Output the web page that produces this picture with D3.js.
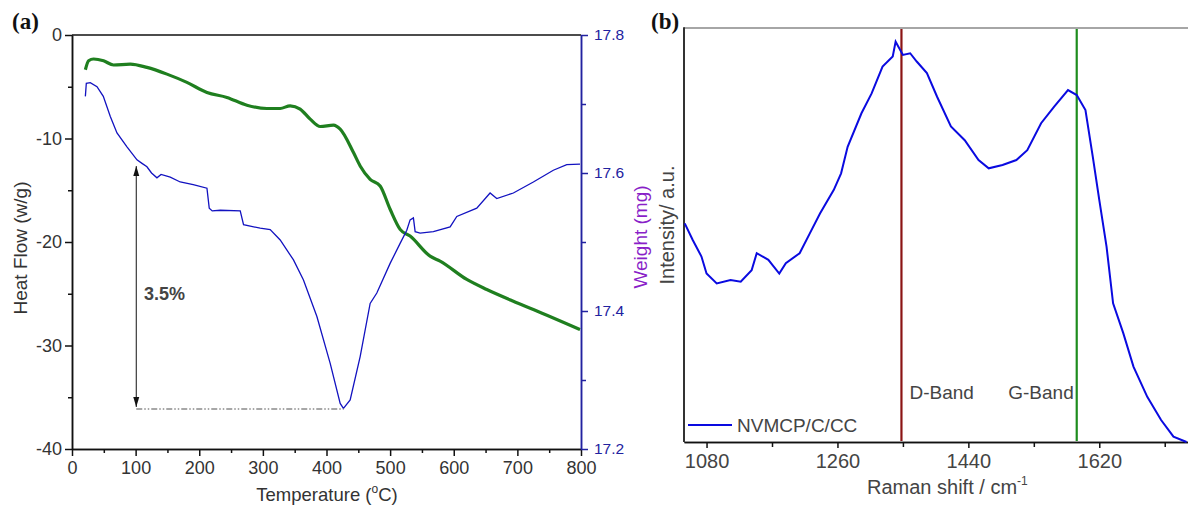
<!DOCTYPE html>
<html>
<head>
<meta charset="utf-8">
<script src="https://cdn.jsdelivr.net/npm/d3@7"></script>
<style>
  body { margin: 0; background: #fff; }
  text { font-family: "Liberation Sans", Arial, sans-serif; }
</style>
</head>
<body>
<div id="chart"></div>
<script>
// ---- data ----
// (a) weight curve, blue, right axis
var tempW = [21, 22.5, 28.7, 39.3, 49.2, 60.2, 70.7, 86.4, 102.1, 110, 117.8, 125, 133.5, 140, 154.4, 170.1, 190.5, 212.1, 215.7, 220.4, 233, 264.4, 269.6, 295.8, 311.5, 327.2, 348.1, 363.8, 384.9, 405.8, 421.5, 426.6, 437.2, 452.9, 468.6, 479.1, 500, 515.7, 526.2, 531.4, 536.6, 539.3, 547.1, 568, 594.3, 604.8, 636.2, 657.1, 667.6, 693.7, 725.1, 756.5, 777.6, 798.4];
var weight = [17.711, 17.730, 17.731, 17.725, 17.711, 17.682, 17.658, 17.638, 17.619, 17.614, 17.609, 17.600, 17.593, 17.598, 17.594, 17.587, 17.583, 17.578, 17.549, 17.545, 17.546, 17.545, 17.525, 17.520, 17.518, 17.503, 17.474, 17.445, 17.392, 17.324, 17.266, 17.259, 17.271, 17.334, 17.411, 17.426, 17.469, 17.498, 17.517, 17.532, 17.535, 17.515, 17.513, 17.515, 17.522, 17.537, 17.549, 17.571, 17.563, 17.571, 17.587, 17.604, 17.612, 17.613];
// (a) heat flow curve, green, left axis
var tempH = [21, 26.1, 33.9, 49.6, 65.3, 91.6, 117.8, 149.2, 180.6, 212.1, 243.5, 274.9, 306.3, 327.2, 342.9, 358.6, 374.4, 390.1, 411, 421.5, 442.4, 452.9, 468.6, 484.3, 500, 515.7, 531.4, 562.8, 578.5, 620.5, 651.9, 693.7, 725.1, 798.5];
var heat = [-3.36, -2.49, -2.32, -2.49, -2.90, -2.81, -3.13, -3.78, -4.58, -5.55, -6.03, -6.78, -7.10, -7.10, -6.84, -7.16, -8.13, -8.84, -8.71, -9.10, -11.36, -12.65, -13.94, -14.59, -16.84, -18.78, -19.43, -21.37, -21.85, -23.62, -24.59, -25.72, -26.52, -28.46];
// (b) Raman spectrum
var ramanShift = [1050, 1061, 1073, 1080, 1094, 1113, 1127, 1142, 1149, 1165, 1180, 1189, 1208, 1222, 1236, 1255, 1265, 1274, 1293, 1307, 1322, 1336, 1340, 1350, 1360, 1369, 1383, 1397, 1416, 1435, 1454, 1468, 1487, 1506, 1521, 1540, 1558, 1577, 1589, 1601, 1611, 1620, 1630, 1639, 1653, 1667, 1686, 1705, 1722, 1740];
var intensity = [52.8, 48.8, 44.8, 40.7, 38.3, 39.1, 38.7, 41.5, 45.6, 44.0, 40.7, 43.2, 45.6, 50.4, 55.2, 60.9, 64.9, 71.3, 79.4, 84.2, 90.7, 93.1, 96.7, 93.5, 93.9, 91.9, 89.1, 83.4, 76.2, 72.9, 68.1, 66.1, 66.9, 68.1, 70.5, 77.0, 81.0, 85.0, 83.8, 80.2, 69, 58.5, 47.2, 33.5, 26.3, 18.2, 10.9, 5.3, 1.3, 0];
var bands = [{name: "D-Band", pos: 1348}, {name: "G-Band", pos: 1589}];

// tick values
var tempTicks = [0, 100, 200, 300, 400, 500, 600, 700, 800];
var tempMinor = [50, 150, 250, 350, 450, 550, 650, 750];
var heatTicks = [-40, -30, -20, -10, 0];
var heatMinor = [-35, -25, -15, -5];
var weightTicks = [17.2, 17.4, 17.6, 17.8];
var weightMinor = [17.3, 17.5, 17.7];
var ramanTicks = [1080, 1260, 1440, 1620];
var ramanMinor = [1170, 1350, 1530, 1710];

var svg = d3.select("#chart").append("svg")
  .attr("width", 1188).attr("height", 507);

// ---------- panel (a) ----------
var x = d3.scaleLinear().domain([0, 800]).range([72, 581]);
var yH = d3.scaleLinear().domain([-40, 0]).range([449, 35]);
var yW = d3.scaleLinear().domain([17.2, 17.8]).range([449, 35]);

// frame top line
svg.append("line").attr("x1", 72).attr("x2", 581).attr("y1", 35).attr("y2", 35)
  .attr("stroke", "#111").attr("stroke-width", 1.5);

function styleAxis(g, col, fs) {
  g.select(".domain").attr("stroke", col).attr("stroke-width", 1.5);
  g.selectAll(".tick line").attr("stroke", col).attr("stroke-width", 1.5);
  g.selectAll(".tick text").attr("fill", col === "#111" ? "#333" : col)
    .style("font-size", fs + "px").style("font-family", "Liberation Sans, Arial, sans-serif");
}

var gb = svg.append("g").attr("transform", "translate(0,449)")
  .call(d3.axisBottom(x).tickValues(tempTicks).tickSize(7).tickSizeOuter(0).tickPadding(5).tickFormat(function(d){ return String(d); }));
styleAxis(gb, "#111", 18);
var gbm = svg.append("g").attr("transform", "translate(0,449)")
  .call(d3.axisBottom(x).tickValues(tempMinor).tickSize(4).tickSizeOuter(0).tickFormat(""));
styleAxis(gbm, "#111", 18);

var gl = svg.append("g").attr("transform", "translate(72,0)")
  .call(d3.axisLeft(yH).tickValues(heatTicks).tickSize(7).tickSizeOuter(0).tickPadding(3).tickFormat(function(d){ return String(d); }));
styleAxis(gl, "#111", 18);
var glm = svg.append("g").attr("transform", "translate(72,0)")
  .call(d3.axisLeft(yH).tickValues(heatMinor).tickSize(4).tickSizeOuter(0).tickFormat(""));
styleAxis(glm, "#111", 18);

var gr = svg.append("g").attr("transform", "translate(581,0)")
  .call(d3.axisRight(yW).tickValues(weightTicks).tickSize(7).tickSizeOuter(0).tickPadding(6).tickFormat(d3.format(".1f")));
styleAxis(gr, "#2222a0", 15.5);
var grm = svg.append("g").attr("transform", "translate(581,0)")
  .call(d3.axisRight(yW).tickValues(weightMinor).tickSize(5).tickSizeOuter(0).tickFormat(""));
styleAxis(grm, "#2222a0", 15.5);

// curves
var heatData = tempH.map(function(t, i){ return [t, heat[i]]; });
var weightData = tempW.map(function(t, i){ return [t, weight[i]]; });

svg.append("path").datum(heatData)
  .attr("d", d3.line().curve(d3.curveMonotoneX).x(function(d){ return x(d[0]); }).y(function(d){ return yH(d[1]); }))
  .attr("fill", "none").attr("stroke", "#1f7f1f").attr("stroke-width", 3.2);

svg.append("path").datum(weightData)
  .attr("d", d3.line().x(function(d){ return x(d[0]); }).y(function(d){ return yW(d[1]); }))
  .attr("fill", "none").attr("stroke", "#1212c0").attr("stroke-width", 1.3);

// 3.5% annotation
var defs = svg.append("defs");
defs.append("marker").attr("id", "ah").attr("viewBox", "0 0 10 10")
  .attr("refX", 10).attr("refY", 5).attr("markerWidth", 10).attr("markerHeight", 10)
  .attr("markerUnits", "userSpaceOnUse").attr("orient", "auto-start-reverse")
  .append("path").attr("d", "M0,2 L10,5 L0,8 Z").attr("fill", "#111");

var annT = 101, annTop = 17.61, annBot = 17.258, annEnd = 427;
svg.append("line")
  .attr("x1", x(annT)).attr("x2", x(annEnd)).attr("y1", yW(annBot)).attr("y2", yW(annBot))
  .attr("stroke", "#8a8a8a").attr("stroke-width", 1.3).attr("stroke-dasharray", "6,2,1.5,2,1.5,2");
svg.append("line")
  .attr("x1", x(annT)).attr("x2", x(annT)).attr("y1", yW(annBot) - 2).attr("y2", yW(annTop))
  .attr("stroke", "#111").attr("stroke-width", 1)
  .attr("marker-start", "url(#ah)").attr("marker-end", "url(#ah)");
svg.append("text").attr("x", 144).attr("y", 300).text("3.5%")
  .attr("fill", "#444").style("font-size", "18px").style("font-weight", "bold");

// axis titles
var tt = svg.append("text").attr("x", 327).attr("y", 501).attr("text-anchor", "middle")
  .attr("fill", "#333").style("font-size", "18.5px");
tt.append("tspan").text("Temperature (");
tt.append("tspan").attr("dy", -8).style("font-size", "12px").text("o");
tt.append("tspan").attr("dy", 8).text("C)");

svg.append("text").attr("transform", "translate(27,248) rotate(-90)")
  .attr("text-anchor", "middle").attr("fill", "#333").style("font-size", "19px")
  .text("Heat Flow (w/g)");

svg.append("text").attr("transform", "translate(647,237) rotate(-90)")
  .attr("text-anchor", "middle").attr("fill", "#8a1fc8").style("font-size", "19px")
  .text("Weight (mg)");

svg.append("text").attr("x", 12).attr("y", 29).text("(a)")
  .style("font-family", "Liberation Serif, Times New Roman, serif")
  .style("font-size", "23px").style("font-weight", "bold").attr("fill", "#111");

// ---------- panel (b) ----------
var xb = d3.scaleLinear().domain([1049, 1742]).range([684, 1188]);
var yb = d3.scaleLinear().domain([0, 100]).range([442, 28]);

svg.append("line").attr("x1", 684).attr("x2", 1188).attr("y1", 28).attr("y2", 28)
  .attr("stroke", "#888").attr("stroke-width", 1.5);

var gbb = svg.append("g").attr("transform", "translate(0,442)")
  .call(d3.axisBottom(xb).tickValues(ramanTicks).tickSize(6).tickSizeOuter(0).tickPadding(6).tickFormat(function(d){ return String(d); }));
styleAxis(gbb, "#111", 20);
gbb.selectAll(".tick text").attr("fill", "#444");
var gbbm = svg.append("g").attr("transform", "translate(0,442)")
  .call(d3.axisBottom(xb).tickValues(ramanMinor).tickSize(5).tickSizeOuter(0).tickFormat(""));
styleAxis(gbbm, "#111", 20);

svg.append("line").attr("x1", 684).attr("x2", 684).attr("y1", 27.3).attr("y2", 442)
  .attr("stroke", "#333").attr("stroke-width", 2);

// band markers
svg.selectAll(".band").data(bands).enter().append("line")
  .attr("x1", function(d){ return xb(d.pos); }).attr("x2", function(d){ return xb(d.pos); })
  .attr("y1", 29).attr("y2", 441)
  .attr("stroke", function(d, i){ return i === 0 ? "#8b1414" : "#1e8c1e"; })
  .attr("stroke-width", 2.2);

var ramanData = ramanShift.map(function(r, i){ return [r, intensity[i]]; });
svg.append("path").datum(ramanData)
  .attr("d", d3.line().x(function(d){ return xb(d[0]); }).y(function(d){ return yb(d[1]); }))
  .attr("fill", "none").attr("stroke", "#0a0ae0").attr("stroke-width", 2);

svg.append("text").attr("x", xb(bands[0].pos) + 8).attr("y", 399).text("D-Band")
  .attr("fill", "#444").style("font-size", "19px");
svg.append("text").attr("x", xb(bands[1].pos) - 3).attr("y", 399).attr("text-anchor", "end").text("G-Band")
  .attr("fill", "#444").style("font-size", "19px");

// legend
svg.append("line").attr("x1", 688).attr("x2", 732).attr("y1", 425).attr("y2", 425)
  .attr("stroke", "#0a0ae0").attr("stroke-width", 2);
svg.append("text").attr("x", 737).attr("y", 432).text("NVMCP/C/CC")
  .attr("fill", "#444").style("font-size", "19px");

var rt = svg.append("text").attr("x", 867).attr("y", 494).attr("fill", "#444").style("font-size", "20px");
rt.append("tspan").text("Raman shift / cm");
rt.append("tspan").attr("dy", -9).style("font-size", "12px").text("-1");

svg.append("text").attr("transform", "translate(674,225) rotate(-90)")
  .attr("text-anchor", "middle").attr("fill", "#444").style("font-size", "20px")
  .text("Intensity/ a.u.");

svg.append("text").attr("x", 651).attr("y", 29).text("(b)")
  .style("font-family", "Liberation Serif, Times New Roman, serif")
  .style("font-size", "23px").style("font-weight", "bold").attr("fill", "#111");
</script>
</body>
</html>
